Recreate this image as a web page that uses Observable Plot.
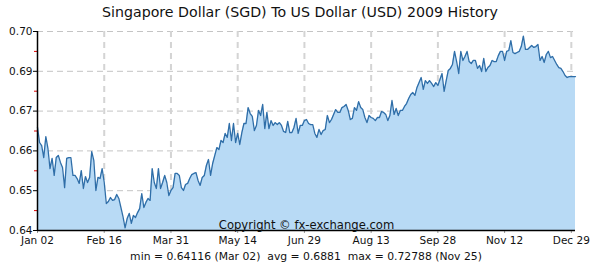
<!DOCTYPE html>
<html>
<head>
<meta charset="utf-8">
<script src="https://cdn.jsdelivr.net/npm/d3@7"></script>
<script src="https://cdn.jsdelivr.net/npm/@observablehq/plot@0.6"></script>
<style>
  html, body { margin: 0; padding: 0; background: #fff; }
  #wrap { width: 600px; height: 270px; position: relative; overflow: hidden; }
  #title { height: 22px; line-height: 24px; text-align: center; font-family: "DejaVu Sans", sans-serif; font-size: 14.2px; color: #111; }
  #chart svg { display: block; }
  #foot { position: absolute; top: 250px; left: 0; width: 612px; text-align: center; font-family: "DejaVu Sans", sans-serif; font-size: 10.8px; color: #111; }
</style>
</head>
<body>
<div id="wrap">
  <div id="title">Singapore Dollar (SGD) To US Dollar (USD) 2009 History</div>
  <div id="chart"></div>
  <div id="foot">min = 0.64116 (Mar 02)&nbsp; avg = 0.6881&nbsp; max = 0.72788 (Nov 25)</div>
</div>
<script>
// Daily SGD->USD rates (trading days, Jan 02 .. Dec 31, 2009)
const rates = [
  0.6866,0.6798,0.6784,0.6730,0.6825,0.6771,0.6680,0.6726,0.6649,0.6730,
  0.6739,0.6708,0.6685,0.6594,0.6726,0.6730,0.6730,0.6649,0.6649,0.6635,
  0.6613,0.6671,0.6590,0.6644,0.6617,0.6640,0.6757,0.6717,0.6581,0.6640,
  0.6635,0.6680,0.6617,0.6522,0.6531,0.6549,0.6536,0.6540,0.6563,0.6545,
  0.6504,0.6463,0.64116,0.6454,0.6477,0.6432,0.6468,0.6459,0.6481,0.6499,
  0.6567,0.6504,0.6527,0.6545,0.6536,0.6680,0.6617,0.6590,0.6680,0.6590,
  0.6617,0.6649,0.6617,0.6558,0.6581,0.6594,0.6658,0.6658,0.6649,0.6594,
  0.6581,0.6608,0.6613,0.6635,0.6653,0.6658,0.6662,0.6626,0.6604,0.6640,
  0.6649,0.6694,0.6721,0.6649,0.6703,0.6739,0.6775,0.6766,0.6807,0.6798,
  0.6839,0.6821,0.6884,0.6807,0.6884,0.6798,0.6839,0.6789,0.6843,0.6884,
  0.6884,0.6956,0.6929,0.6916,0.6852,0.6875,0.6943,0.6920,0.6970,0.6861,
  0.6934,0.6861,0.6897,0.6875,0.6888,0.6879,0.6888,0.6875,0.6848,0.6843,
  0.6893,0.6843,0.6843,0.6866,0.6907,0.6839,0.6875,0.6875,0.6897,0.6902,
  0.6884,0.6879,0.6879,0.6839,0.6821,0.6857,0.6834,0.6852,0.6857,0.6920,
  0.6888,0.6902,0.6925,0.6947,0.6934,0.6934,0.6956,0.6961,0.6970,0.6943,
  0.6902,0.6907,0.6956,0.6943,0.6983,0.6956,0.6947,0.6911,0.6888,0.6920,
  0.6911,0.6907,0.6897,0.6911,0.6911,0.6938,0.6934,0.6925,0.6897,0.6920,
  0.6988,0.6925,0.6952,0.6920,0.6943,0.6943,0.6961,0.6974,0.6997,0.7015,
  0.7024,0.7011,0.7047,0.7069,0.7092,0.7038,0.7078,0.7065,0.7078,0.7065,
  0.7051,0.7069,0.7056,0.7083,0.7110,0.7029,0.7078,0.7124,0.7133,0.7151,
  0.7210,0.7164,0.7110,0.7210,0.7169,0.7187,0.7210,0.7164,0.7155,0.7169,
  0.7169,0.7133,0.7146,0.7119,0.7178,0.7119,0.7137,0.7146,0.7169,0.7164,
  0.7164,0.7191,0.7210,0.7210,0.7169,0.7210,0.7214,0.7259,0.7205,0.7200,
  0.7205,0.7210,0.7232,0.72788,0.7219,0.7219,0.7228,0.7237,0.7228,0.7232,
  0.7241,0.7169,0.7187,0.7160,0.7196,0.7210,0.7182,0.7187,0.7169,0.7151,
  0.7137,0.7133,0.7119,0.7101,0.7092,0.7096,0.7096,0.7096,0.7096
];

// x axis: trading-day index of each labelled date
const xTickIndex  = [0, 32, 64, 96, 128, 160, 192, 224, 256];
const xTickLabels = ["Jan 02", "Feb 16", "Mar 31", "May 14", "Jun 29", "Aug 13", "Sep 28", "Nov 12", "Dec 29"];

// y axis: tick values and the labels the original prints for them
const yTickValues = [0.64, 0.658, 0.676, 0.694, 0.712, 0.73];
const yTickLabels = ["0.64", "0.65", "0.66", "0.67", "0.69", "0.70"];
const yMinorTicks = [0.649, 0.667, 0.685, 0.703, 0.721];

const yDomain = [0.64, 0.73];

const data = rates.map((v, i) => ({i, v}));

const chart = Plot.plot({
  width: 600,
  height: 228,
  marginTop: 9,
  marginBottom: 20,
  marginLeft: 37,
  marginRight: 25,
  style: {fontFamily: "'DejaVu Sans', sans-serif", fontSize: "10.5px", color: "#111", background: "transparent"},
  x: {domain: [0, rates.length - 1], label: null},
  y: {domain: yDomain, label: null},
  marks: [
    Plot.gridY(yTickValues.slice(1), {stroke: "#c4c4c4", strokeOpacity: 1, strokeDasharray: "6,4", strokeWidth: 1}),
    Plot.gridX(xTickIndex.slice(1), {stroke: "#d4d4d4", strokeOpacity: 1, strokeDasharray: "6,5", strokeWidth: 2}),
    Plot.areaY(data, {x: "i", y1: yDomain[0], y2: "v", fill: "#b8daf5", curve: "linear"}),
    Plot.lineY(data, {x: "i", y: "v", stroke: "#2f6ea8", strokeWidth: 1.3}),
    Plot.axisY({ticks: yMinorTicks, tickSize: 3, stroke: "#e00000", tickFormat: () => "", label: null}),
    Plot.axisY({ticks: yTickValues, tickSize: 4, tickPadding: 1, stroke: "#000", tickFormat: (d, i) => yTickLabels[i], label: null}),
    Plot.axisX({ticks: xTickIndex, tickSize: 3, tickPadding: 3, stroke: "#999", tickFormat: (d, i) => xTickLabels[i], label: null}),
    Plot.ruleX([0], {stroke: "#000", strokeWidth: 1.5}),
    Plot.ruleY([yDomain[0]], {stroke: "#000", strokeWidth: 1.5}),
    Plot.text(["Copyright © fx-exchange.com"], {frameAnchor: "bottom", lineAnchor: "bottom", dy: -2, fontSize: 11.6, fill: "#111"})
  ]
});
document.getElementById("chart").appendChild(chart);
</script>
</body>
</html>
